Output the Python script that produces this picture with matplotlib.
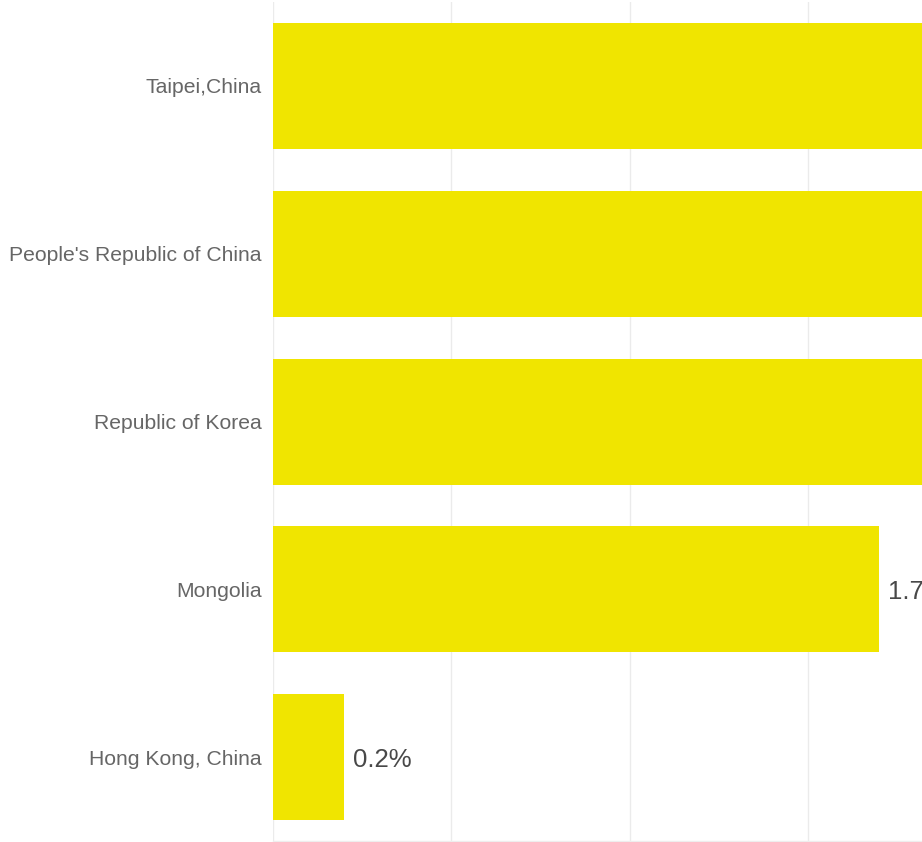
import matplotlib
matplotlib.use("Agg")
import matplotlib.pyplot as plt

categories = ["Taipei,China", "People's Republic of China", "Republic of Korea", "Mongolia", "Hong Kong, China"]
values = [3.2, 2.6, 2.3, 1.7, 0.2]
labels = ["3.2%", "2.6%", "2.3%", "1.7%", "0.2%"]
grid_ticks = [0, 0.5, 1.0, 1.5, 2.0]

plt.rcParams['font.family'] = ['Liberation Sans', 'DejaVu Sans']

W, H = 922, 842
fig = plt.figure(figsize=(W/100, H/100), dpi=100)
left = 273 / W
bottom = 1 - 842 / H
top = 1 - 2 / H
ax = fig.add_axes([left, bottom + 0.001, 1 - left, top - bottom - 0.001])

y = list(range(len(categories)))
ax.barh(y, values, height=0.75, color='#f0e500', zorder=2)
ax.set_xticks(grid_ticks)
ax.set_xticklabels([])
ax.set_ylim(len(categories) - 0.5, -0.5)
ax.set_xlim(0, (W - 273) / 356.7)
ax.tick_params(axis='x', length=0)
ax.grid(axis='x', color='#ebebeb', linewidth=1, zorder=0)
ax.set_yticks(y)
ax.set_yticklabels(categories, fontsize=15.2, color='#666666', va='center_baseline')
ax.tick_params(axis='y', length=0, pad=8)
for s in ['top', 'right', 'left']:
    ax.spines[s].set_visible(False)
ax.spines['bottom'].set_color('#eeeeee')
ax.spines['bottom'].set_linewidth(1)

for yi, v, lab in zip(y, values, labels):
    ax.annotate(lab, (v, yi), xytext=(6.5, 0), textcoords='offset points',
                va='center_baseline', ha='left', fontsize=18.5, color='#484848',
                annotation_clip=False, clip_on=False)

fig.savefig("out.png", dpi=100)
